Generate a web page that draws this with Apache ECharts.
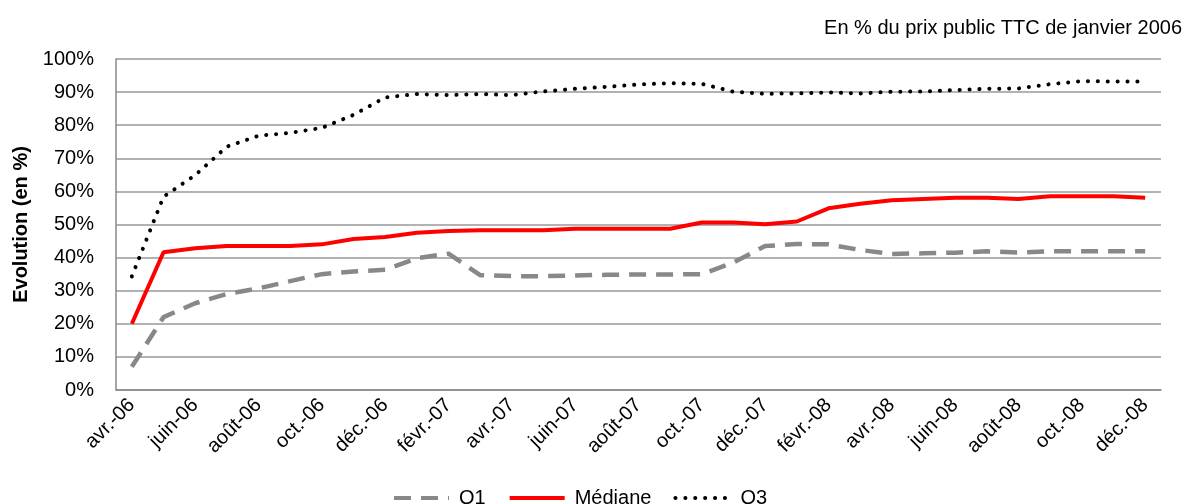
<!DOCTYPE html>
<html>
<head>
<meta charset="utf-8">
<script src="https://cdn.jsdelivr.net/npm/echarts@6/dist/echarts.min.js"></script>
<style>
  html, body { margin: 0; padding: 0; background: #fff; }
  #chart { width: 1189px; height: 504px; }
</style>
</head>
<body>
<div id="chart"></div>
<script>
// mois avr. 2006 -> déc. 2008
const months = ['avr.-06', 'mai-06', 'juin-06', 'juil.-06', 'août-06', 'sept.-06', 'oct.-06', 'nov.-06', 'déc.-06',
  'janv.-07', 'févr.-07', 'mars-07', 'avr.-07', 'mai-07', 'juin-07', 'juil.-07', 'août-07', 'sept.-07', 'oct.-07', 'nov.-07', 'déc.-07',
  'janv.-08', 'févr.-08', 'mars-08', 'avr.-08', 'mai-08', 'juin-08', 'juil.-08', 'août-08', 'sept.-08', 'oct.-08', 'nov.-08', 'déc.-08']

const q1 = [7, 22, 26.2, 29, 30.7, 32.9, 35, 35.8, 36.3, 39.8, 41.2, 34.7, 34.4, 34.4, 34.6, 34.8, 34.9,
  34.9, 35, 38.5, 43.5, 44.1, 44, 42.3, 41.1, 41.3, 41.5, 41.9, 41.5, 41.9, 41.9, 41.9, 41.9]
const mediane = [20, 41.6, 42.8, 43.5, 43.5, 43.5, 44, 45.6, 46.2, 47.5, 48, 48.3, 48.3, 48.3, 48.7, 48.7, 48.7,
  48.7, 50.6, 50.6, 50.1, 50.9, 54.9, 56.3, 57.3, 57.7, 58.1, 58.1, 57.7, 58.5, 58.5, 58.5, 58.1]
const q3 = [34.3, 58.4, 64.9, 73.5, 76.8, 77.7, 79.2, 83.1, 88.4, 89.4, 89.1, 89.4, 89.1, 90.2, 91, 91.6, 92.3,
  92.7, 92.5, 90.1, 89.5, 89.6, 89.9, 89.6, 90.1, 90.2, 90.6, 91, 91.1, 92.4, 93.3, 93.2, 93.2]

const chart = echarts.init(document.getElementById('chart'))
const font = 'Liberation Sans, Arial, sans-serif'

chart.setOption({
  animation: false,
  textStyle: { fontFamily: font, color: '#000' },
  title: {
    text: 'En % du prix public TTC de janvier 2006',
    right: 2,
    top: 13,
    textStyle: { fontFamily: font, fontSize: 20, fontWeight: 'normal', color: '#000' }
  },
  grid: {
    left: 116,
    right: 28,
    top: 59,
    bottom: 114
  },
  legend: {
    bottom: -9,
    left: 387,
    itemWidth: 55,
    itemHeight: 14,
    itemGap: 22,
    itemStyle: { opacity: 0 },
    lineStyle: { width: 4 },
    textStyle: { fontFamily: font, fontSize: 20, color: '#000', padding: [0, 0, 0, 5] },
    data: ['Q1', 'Médiane', 'Q3']
  },
  xAxis: {
    type: 'category',
    boundaryGap: true,
    data: months,
    axisLine: { lineStyle: { color: '#888', width: 1.5 } },
    axisTick: { inside: true, length: 5, interval: 1, lineStyle: { color: '#888', width: 1.5 } },
    axisLabel: {
      interval: 1,
      rotate: 45,
      margin: 12,
      fontSize: 20,
      color: '#000',
      fontFamily: font
    }
  },
  yAxis: {
    type: 'value',
    min: 0,
    max: 100,
    interval: 10,
    name: 'Evolution (en %)',
    nameLocation: 'middle',
    nameGap: 84,
    nameTextStyle: { fontFamily: font, fontSize: 20, fontWeight: 'bold', color: '#000' },
    axisLine: { show: true, lineStyle: { color: '#888', width: 1.5 } },
    axisTick: { show: false },
    axisLabel: { formatter: '{value}%', fontSize: 20, margin: 22, color: '#000', fontFamily: font },
    splitLine: { lineStyle: { color: '#999', width: 1.5 } }
  },
  series: [
    {
      name: 'Q1',
      type: 'line',
      data: q1,
      symbol: 'none',
      lineStyle: { color: '#888', width: 4.5, type: [17, 10] },
      itemStyle: { color: '#888' }
    },
    {
      name: 'Médiane',
      type: 'line',
      data: mediane,
      symbol: 'none',
      lineStyle: { color: '#ff0000', width: 4 },
      itemStyle: { color: '#ff0000' }
    },
    {
      name: 'Q3',
      type: 'line',
      data: q3,
      symbol: 'none',
      lineStyle: { color: '#000', width: 4, type: [0.1, 9.8], cap: 'round' },
      itemStyle: { color: '#000' }
    }
  ]
})
</script>
</body>
</html>
